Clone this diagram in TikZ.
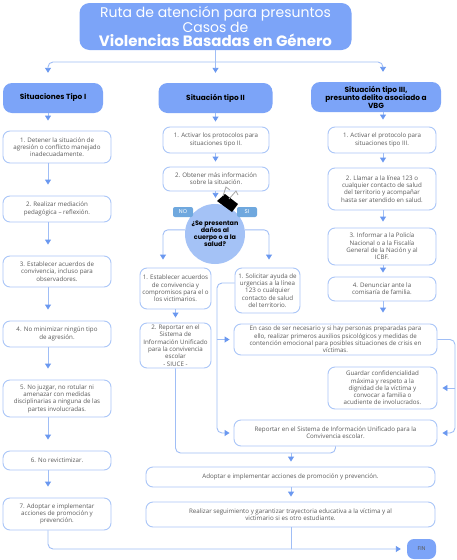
\documentclass[tikz,border=0pt]{standalone}
\usepackage{fontspec}
\setmainfont{Open Sans}
\newfontfamily\headfont{Poppins}
\usetikzlibrary{arrows.meta}
\definecolor{headblue}{RGB}{124,164,248}
\definecolor{boxline}{RGB}{170,198,248}
\definecolor{lineblue}{RGB}{160,190,246}
\definecolor{tipblue}{RGB}{106,152,240}
\definecolor{bubble}{RGB}{164,194,246}
\definecolor{tagblue}{RGB}{111,168,222}
\definecolor{txtgray}{RGB}{90,90,90}

\begin{document}
\begin{tikzpicture}[x=1pt,y=-1pt,
    box/.style={draw=boxline,line width=0.9pt,rounded corners=7pt,fill=white,
      text=txtgray,align=center,inner sep=1pt,font=\fontsize{6.2}{7.3}\selectfont},
    headbox/.style={fill=headblue,rounded corners=9pt,align=center,inner sep=1pt,
      font=\headfont\bfseries\fontsize{7.4}{8}\selectfont},
    tag/.style={fill=tagblue,rounded corners=2pt,text=white,minimum width=20pt,
      minimum height=10pt,inner sep=0pt,font=\headfont\fontsize{5.5}{6}\selectfont},
    link/.style={draw=lineblue,line width=0.9pt},
    arr/.style={link,-{Triangle[width=6pt,length=5pt,color=tipblue]}}]
          \fill[white] (0,0) rectangle (456,560);
          \useasboundingbox (0,0) rectangle (456,560);

          % title and the three kinds of situation
          \node[fill=headblue,rounded corners=10pt,text=white,align=center,inner sep=0pt,
            minimum width=272pt,minimum height=47pt,
            font=\headfont\fontsize{14}{13}\selectfont] (title) at (215.5,26.5)
            {Ruta de atención para presuntos\\Casos de\\[1.5pt]
             {\fontsize{15}{15}\selectfont\bfseries Violencias Basadas en Género}};
          \node[headbox,minimum width=100pt,minimum height=30pt] (h1) at (53,98) {Situaciones Tipo I};
          \node[headbox,minimum width=114pt,minimum height=30pt] (h2) at (215.5,98) {Situación tipo II};
          \node[headbox,minimum width=130pt,minimum height=30pt] (h3) at (376,97)
            {Situación tipo III,\\presunto delito asociado a\\VBG};

          \coordinate (top) at (215.5,62);
          \coordinate (colI) at (48,0);
          \coordinate (colIII) at (383,0);

          % tipo I
          \node[box,minimum width=108pt,minimum height=32pt] (a1) at (57,147)
            {1. Detener la situación de\\agresión o conflicto manejado\\inadecuadamente.};
          \node[box,minimum width=108pt,minimum height=26pt] (a2) at (57,209)
            {2. Realizar mediación\\pedagógica -- reflexión.};
          \node[box,minimum width=108pt,minimum height=31pt] (a3) at (57,271.5)
            {3. Establecer acuerdos de\\convivencia, incluso para\\observadores.};
          \node[box,minimum width=108pt,minimum height=26pt] (a4) at (57,334)
            {4. No minimizar ningún tipo\\de agresión.};
          \node[box,minimum width=108pt,minimum height=37pt] (a5) at (57,398.5)
            {5. No juzgar, no rotular ni\\amenazar con medidas\\disciplinarias a ninguna de las\\partes involucradas.};
          \node[box,minimum width=108pt,minimum height=19pt] (a6) at (57,460.5)
            {6. No revictimizar.};
          \node[box,minimum width=108pt,minimum height=32pt] (a7) at (57,514)
            {7. Adoptar e implementar\\acciones de promoción y\\prevención.};

          % tipo II
          \node[box,minimum width=106pt,minimum height=26pt] (b1) at (216,140)
            {1. Activar los protocolos para\\situaciones tipo II.};
          \node[box,minimum width=106pt,minimum height=24pt] (b2) at (216,179)
            {2. Obtener más información\\sobre la situación.};
          \node[circle,fill=bubble,minimum size=60pt,inner sep=0pt,align=center,
            font=\headfont\bfseries\fontsize{6.4}{7}\selectfont] (q) at (215,234)
            {¿Se presentan\\daños al\\cuerpo o a la\\salud?};
          \node[tag] (no) at (183,212) {NO};
          \node[tag] (si) at (247,212) {SI};
          % clip
          \fill[black] (217,201) -- (225,194) -- (238,204) -- (232,212) -- cycle;
          \draw[gray!70,line width=0.8pt] (223,196) -- (226,187) -- (230,190);
          \draw[gray!70,line width=0.8pt] (229,199) -- (236,191) -- (238,195);

          \coordinate (lft) at (163,0);
          \coordinate (rgt) at (269,0);
          \node[box,minimum width=71pt,minimum height=41pt] (l1) at (175.5,288.5)
            {1. Establecer acuerdos\\de convivencia y\\compromisos para el o\\los victimarios.};
          \node[box,minimum width=71pt,minimum height=45pt] (l2) at (175.5,345.5)
            {2. Reportar en el\\Sistema de\\Información Unificado\\para la convivencia\\escolar\\- SIUCE -};
          \node[box,minimum width=65pt,minimum height=45pt] (r1) at (267.5,290.5)
            {1. Solicitar ayuda de\\urgencias a la línea\\123 o cualquier\\contacto de salud\\del territorio.};
          \node[box,minimum width=203pt,minimum height=31pt] (r2) at (335.5,339.5)
            {En caso de ser necesario y si hay personas preparadas para\\ello, realizar primeros auxilios psicológicos y medidas de\\contención emocional para posibles situaciones de crisis en\\víctimas.};
          \node[box,minimum width=109pt,minimum height=42pt] (r3) at (382.5,388)
            {Guardar confidencialidad\\máxima y respeto a la\\dignidad de la víctima y\\convocar a familia o\\acudiente de involucrados.};
          \node[box,minimum width=203pt,minimum height=26pt] (r4) at (335.5,433)
            {Reportar en el Sistema de Información Unificado para la\\Convivencia escolar.};

          % tipo III
          \node[box,minimum width=108pt,minimum height=26pt] (c1) at (382,140)
            {1. Activar el protocolo para\\situaciones tipo III.};
          \node[box,minimum width=108pt,minimum height=42pt] (c2) at (382,189)
            {2. Llamar a la línea 123 o\\cualquier contacto de salud\\del territorio y acompañar\\hasta ser atendido en salud.};
          \node[box,minimum width=108pt,minimum height=37pt] (c3) at (382,246.5)
            {3. Informar a la Policía\\Nacional o a la Fiscalía\\General de la Nación y al\\ICBF.};
          \node[box,minimum width=108pt,minimum height=24pt] (c4) at (382,289)
            {4. Denunciar ante la\\comisaría de familia.};

          % common end
          \node[box,minimum width=289pt,minimum height=20pt] (d1) at (290.5,477)
            {Adoptar e implementar acciones de promoción y prevención.};
          \node[box,minimum width=289pt,minimum height=25pt] (d2) at (290.5,514.5)
            {Realizar seguimiento y garantizar trayectoria educativa a la víctima y al\\victimario si es otro estudiante.};
          \node[fill=headblue,rounded corners=7pt,minimum width=29pt,minimum height=20pt,
            inner sep=0pt,text=txtgray,font=\headfont\fontsize{5.5}{6}\selectfont] (fin) at (421.5,549) {FIN};

          \coordinate (vl) at (217,360);
          \coordinate (vr) at (455,380);
          \coordinate (mid) at (291,453);

          % connectors
          \draw[link] (title.south) -- (top);
          \draw[arr,rounded corners=5pt,shorten >=10pt] (top) -| (h1.north -| colI);
          \draw[arr,shorten >=10pt] (top) -- (h2.north);
          \draw[arr,rounded corners=5pt,shorten >=10pt] (top) -| (h3.north -| colIII);

          \draw[arr,shorten >=10pt] (h1.south -| colI) -- (a1.north -| colI);
          \draw[arr,shorten >=11pt] (a1.south -| colI) -- (a2.north -| colI);
          \draw[arr,shorten >=11pt] (a2.south -| colI) -- (a3.north -| colI);
          \draw[arr,shorten >=11pt] (a3.south -| colI) -- (a4.north -| colI);
          \draw[arr,shorten >=11pt] (a4.south -| colI) -- (a5.north -| colI);
          \draw[arr,shorten >=11pt] (a5.south -| colI) -- (a6.north -| colI);
          \draw[arr,shorten >=11pt] (a6.south -| colI) -- (a7.north -| colI);
          \draw[arr,rounded corners=5pt,shorten >=6pt] (a7.south -| colI) |- (fin.west);

          \draw[arr,shorten >=5pt] (h2.south) -- (b1.north -| h2.south);
          \draw[arr,shorten >=5pt] (b1.south -| h2.south) -- (b2.north -| h2.south);
          \draw[arr,shorten >=6pt] (b2.south -| h2.south) -- (q.north -| h2.south);
          \draw[arr,rounded corners=5pt,shorten >=8pt] (q.172) -| (l1.north -| lft);
          \draw[arr,rounded corners=5pt,shorten >=8pt] (q.8) -| (r1.north -| rgt);
          \draw[arr,shorten >=5pt] (l1.south) -- (l2.north);
          \draw[link,rounded corners=5pt] (l2.south) |- (mid) -| (r4.south);
          \draw[arr,rounded corners=5pt,shorten >=4pt] ([yshift=7.5pt]r1.west) -| (vl) |- (r4.west);
          \draw[arr,shorten >=4pt] (r2.west -| vl) -- (r2.west);
          \draw[arr,rounded corners=5pt,shorten >=5pt] (r2.east) -| (vr) |- (r4.east);
          \draw[arr,shorten >=5pt] (r3.east -| vr) -- (r3.east);

          \draw[arr,shorten >=7pt] (h3.south -| colIII) -- (c1.north -| colIII);
          \draw[arr,shorten >=5pt] (c1.south -| colIII) -- (c2.north -| colIII);
          \draw[arr,shorten >=6pt] (c2.south -| colIII) -- (c3.north -| colIII);
          \draw[arr,shorten >=4pt] (c3.south -| colIII) -- (c4.north -| colIII);
          \draw[arr,shorten >=11pt] (c4.south -| colIII) -- (r2.north -| colIII);

          \draw[arr,shorten >=5pt] (mid) -- (d1.north -| mid);
          \draw[arr,shorten >=5pt] (d1.south -| mid) -- (d2.north -| mid);
          \draw[link] (d2.south -| mid) -- (fin.west -| mid);
\end{tikzpicture}
\end{document}
